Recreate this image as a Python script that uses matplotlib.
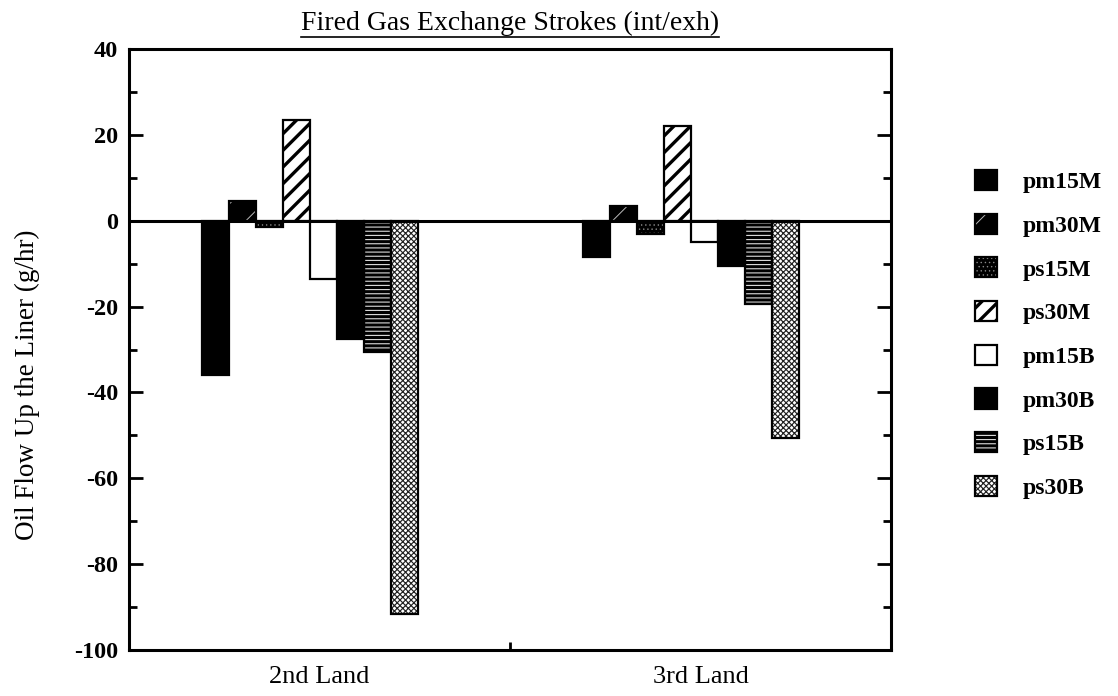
import matplotlib
matplotlib.use("Agg")
import matplotlib.pyplot as plt
from matplotlib.patches import Patch, Rectangle
from matplotlib.legend_handler import HandlerTuple
import numpy as np

categories = ["2nd Land", "3rd Land"]
series = ["pm15M", "pm30M", "ps15M", "ps30M", "pm15B", "pm30B", "ps15B", "ps30B"]
pm15M = [-36, -8.5]
pm30M = [4.5, 3.5]
ps15M = [-1.5, -3]
ps30M = [23.5, 22]
pm15B = [-13.5, -5]
pm30B = [-27.5, -10.5]
ps15B = [-30.5, -19.5]
ps30B = [-91.5, -50.5]
values = [pm15M, pm30M, ps15M, ps30M, pm15B, pm30B, ps15B, ps30B]
yticks = [40, 20, 0, -20, -40, -60, -80, -100]

# style per series: (facecolor, hatchcolor, hatch, hatch lw)
styles = [
    ("black", "black", None, 1.0),
    ("black", "#bbbbbb", "/", 0.7),
    ("black", "#888888", "....", 0.5),
    ("white", "black", "//", 2.4),
    ("white", "black", None, 1.0),
    ("black", "black", None, 1.0),
    ("black", "#dddddd", "----", 0.8),
    ("white", "#222222", "xxxxxx", 0.85),
]
hatch_lw = {s[2]: s[3] for s in styles if s[2]}

serif = ["Liberation Serif", "DejaVu Serif"]
plt.rcParams["font.family"] = serif


def styled_patch(fc, hc, hatch, hlw, **kw):
    with plt.rc_context({"hatch.linewidth": hlw}):
        p = Patch(facecolor=fc, edgecolor=hc, hatch=hatch, linewidth=0, **kw)
    if hasattr(p, "set_hatch_linewidth"):
        p.set_hatch_linewidth(hlw)
    return p


fig = plt.figure(figsize=(11.18, 6.96), dpi=100)
ax = fig.add_axes([129/1118, 46/696, (891-129)/1118, (650-49)/696])

x = np.arange(len(categories))
w = 0.0709
shift = -0.024
for i, (name, vals) in enumerate(zip(series, values)):
    fc, hc, hatch, hlw = styles[i]
    pos = x + shift + (i - 3.5) * w
    with plt.rc_context({"hatch.linewidth": hlw}):
        bars = ax.bar(pos, vals, width=w, facecolor=fc, edgecolor=hc, hatch=hatch,
                      linewidth=0, zorder=2)
    for b in bars:
        if hasattr(b, "set_hatch_linewidth"):
            b.set_hatch_linewidth(hlw)
    ax.bar(pos, vals, width=w, facecolor="none", edgecolor="black",
           linewidth=1.6, zorder=3)

ax.axhline(0, color="black", linewidth=2.2, zorder=4)
ax.set_xlim(-0.5, 1.5)
ax.set_ylim(-100, 40)

ax.set_yticks(yticks)
ax.set_yticklabels([str(t) for t in yticks], fontsize=17.5, fontweight="bold")
ax.set_yticks(np.arange(-90, 40, 20), minor=True)
ax.tick_params(axis="y", which="major", direction="in", length=10, width=2,
               left=True, right=True, pad=8)
ax.tick_params(axis="y", which="minor", direction="in", length=6, width=2,
               left=True, right=True)

ax.set_xticks([0.5])
ax.set_xticklabels([""])
ax.tick_params(axis="x", which="major", direction="in", length=6, width=2)
for xi, lab in zip(x, categories):
    ax.text(xi, -0.027, lab, transform=ax.get_xaxis_transform(),
            ha="center", va="top", fontsize=19)

for s in ax.spines.values():
    s.set_linewidth(2.2)

ax.set_ylabel("Oil Flow Up the Liner (g/hr)", fontsize=19.5)
ax.yaxis.set_label_coords((40 - 129) / 762, (650 - 385) / 601)
ax.set_title("Fired Gas Exchange Strokes (int/exh)", fontsize=20, pad=14)
t = ax.title
fig.canvas.draw()
bb = t.get_window_extent()
fig.add_artist(plt.Line2D([bb.x0/1118, bb.x1/1118], [(bb.y0-1)/696, (bb.y0-1)/696],
                          color="black", linewidth=1.2))

handles = []
for i, name in enumerate(series):
    fc, hc, hatch, hlw = styles[i]
    fill = styled_patch(fc, hc, hatch, hlw)
    outline = Patch(facecolor="none", edgecolor="black", linewidth=1.6)
    handles.append((fill, outline))
leg = fig.legend(handles=handles, labels=series, loc="upper left",
                 bbox_to_anchor=(975/1118, 1 - 170/696), frameon=False,
                 prop={"family": serif, "weight": "bold", "size": 17},
                 handler_map={tuple: HandlerTuple(ndivide=1, pad=0)},
                 handlelength=0.93, handleheight=0.93, handletextpad=1.1,
                 labelspacing=0.87, borderpad=0, borderaxespad=0)
for p in leg.findobj(Rectangle):
    h = p.get_hatch()
    if h in hatch_lw and hasattr(p, "set_hatch_linewidth"):
        p.set_hatch_linewidth(hatch_lw[h])

fig.savefig("out.png", dpi=100)
